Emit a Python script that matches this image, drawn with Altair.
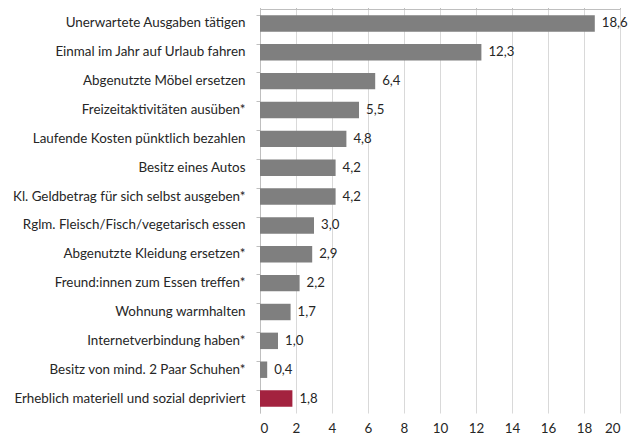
import altair as alt
import pandas as pd

categories = [
    "Unerwartete Ausgaben tätigen",
    "Einmal im Jahr auf Urlaub fahren",
    "Abgenutzte Möbel ersetzen",
    "Freizeitaktivitäten ausüben*",
    "Laufende Kosten pünktlich bezahlen",
    "Besitz eines Autos",
    "Kl. Geldbetrag für sich selbst ausgeben*",
    "Rglm. Fleisch/Fisch/vegetarisch essen",
    "Abgenutzte Kleidung ersetzen*",
    "Freund:innen zum Essen treffen*",
    "Wohnung warmhalten",
    "Internetverbindung haben*",
    "Besitz von mind. 2 Paar Schuhen*",
    "Erheblich materiell und sozial depriviert",
]
values = [18.6, 12.3, 6.4, 5.5, 4.8, 4.2, 4.2, 3.0, 2.9, 2.2, 1.7, 1.0, 0.4, 1.8]
groups = ["item"] * 13 + ["total"]

df = pd.DataFrame({
    "cat": categories,
    "val": values,
    "grp": groups,
    "lbl": [f"{v:.1f}".replace(".", ",") for v in values],
})

FONT = "Lato"
x_scale = alt.Scale(domain=[0, 20], nice=False, zero=True)
y_enc = alt.Y(
    "cat:N", sort=categories, title=None,
    scale=alt.Scale(paddingInner=0.43, paddingOuter=0.215),
    axis=alt.Axis(
        labelFont=FONT, labelFontSize=13.4, labelColor="#262626", labelPadding=11,
        domainColor="#bfbfbf", tickColor="#bfbfbf", tickSize=4, bandPosition=0,
        labelLimit=300,
    ),
)

bars = alt.Chart(df).mark_bar().encode(
    x=alt.X("val:Q", scale=x_scale, title=None,
            axis=alt.Axis(orient="top", values=list(range(0, 21, 2)), labels=False,
                          domainColor="#bfbfbf", tickColor="#bfbfbf", tickSize=4,
                          gridColor="#d9d9d9", grid=True)),
    y=y_enc,
    color=alt.Color("grp:N", scale=alt.Scale(domain=["item", "total"],
                                             range=["#7f7f7f", "#a3223f"]), legend=None),
)

texts = alt.Chart(df).mark_text(align="left", dx=7, font=FONT, fontSize=13.2,
                                color="#262626").encode(
    x=alt.X("val:Q", scale=x_scale, title=None,
            axis=alt.Axis(orient="bottom", values=list(range(0, 21, 2)), domain=False,
                          ticks=False, grid=False, labelFont=FONT, labelFontSize=13.4,
                          labelColor="#262626", labelPadding=8)),
    y=y_enc,
    text="lbl:N",
)

chart = alt.layer(bars, texts).properties(
    width=360, height=404,
    autosize=alt.AutoSizeParams(type="none"),
    padding={"left": 252, "top": 1, "right": 9, "bottom": 24},
).configure_view(stroke=None)

chart.save("out.html", embed_options={"renderer": "svg", "actions": False})
